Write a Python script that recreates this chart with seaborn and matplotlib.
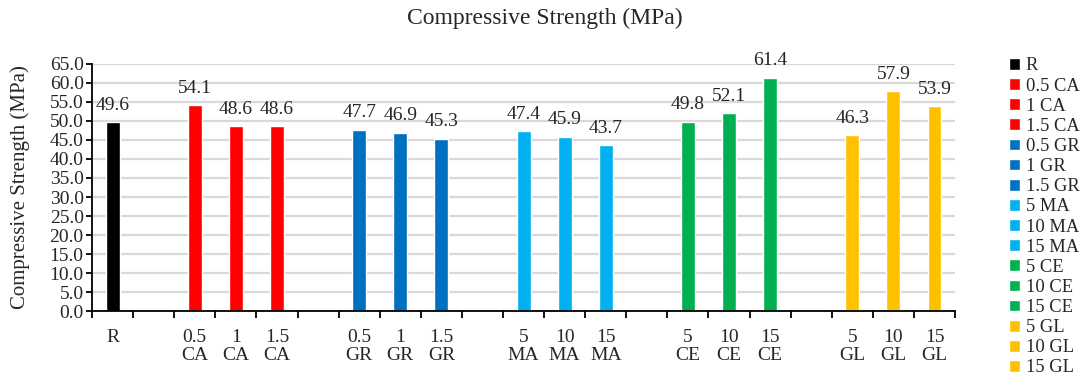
import matplotlib
matplotlib.use("Agg")
import matplotlib.pyplot as plt
import seaborn as sns
import pandas as pd
import numpy as np
from matplotlib.ticker import FormatStrFormatter, MultipleLocator

# Mixes and their compressive strength (MPa)
mixes = ["R", "0.5 CA", "1 CA", "1.5 CA", "0.5 GR", "1 GR", "1.5 GR",
         "5 MA", "10 MA", "15 MA", "5 CE", "10 CE", "15 CE",
         "5 GL", "10 GL", "15 GL"]
strength = [49.6, 54.1, 48.6, 48.6, 47.7, 46.9, 45.3,
            47.4, 45.9, 43.7, 49.8, 52.1, 61.4,
            46.3, 57.9, 53.9]
groups = ["R", "CA", "CA", "CA", "GR", "GR", "GR",
          "MA", "MA", "MA", "CE", "CE", "CE",
          "GL", "GL", "GL"]
group_colors = {"R": "#000000", "CA": "#FF0000", "GR": "#0070C0",
                "MA": "#00B0F0", "CE": "#00B050", "GL": "#FFC000"}

df = pd.DataFrame({"mix": mixes, "strength": strength, "group": groups})
palette = {m: group_colors[g] for m, g in zip(mixes, groups)}

# Category order with an empty slot between each group
order = []
for i, (m, g) in enumerate(zip(mixes, groups)):
    if i > 0 and g != groups[i - 1]:
        order.append(f"_gap{i}")
    order.append(m)
tick_labels = ["" if o.startswith("_gap") else o.replace(" ", "\n") for o in order]

sns.set_style("white")
plt.rcParams["font.family"] = ["Liberation Serif", "DejaVu Serif"]

fig = plt.figure(figsize=(10.89, 3.85), dpi=100)
ax = fig.add_axes([0.0845, 0.192, 0.7925, 0.642])

sns.barplot(data=df, x="mix", y="strength", hue="mix", order=order,
            hue_order=mixes, palette=palette, dodge=False, width=0.34,
            saturation=1, ax=ax, legend=True)

for c in ax.containers:
    ax.bar_label(c, fmt="%.1f", padding=6, fontsize=14)

ax.set_ylim(0, 65)
ax.yaxis.set_major_locator(MultipleLocator(5))
ax.yaxis.set_major_formatter(FormatStrFormatter("%.1f"))
ax.set_xlim(-0.5, len(order) - 0.5)

# Tick marks on the category boundaries, labels at the centres
ax.set_xticks(np.arange(len(order) + 1) - 0.5, labels=[""] * (len(order) + 1))
ax.set_xticks(np.arange(len(order)), labels=tick_labels, minor=True)
ax.tick_params(axis="x", which="major", length=5, width=1.3, color="black",
               direction="out", bottom=True)
ax.tick_params(axis="x", which="minor", length=0, pad=13, labelsize=14)
for t in ax.get_xticklabels(minor=True):
    t.set_linespacing(1.05)
ax.tick_params(axis="y", length=4, width=1.3, color="black", direction="out",
               left=True, labelsize=14, pad=2)

ax.yaxis.grid(True, color="#d9d9d9", linewidth=1.6)
ax.set_axisbelow(True)
for s in ["top", "right"]:
    ax.spines[s].set_visible(False)
for s in ["left", "bottom"]:
    ax.spines[s].set_color("black")
    ax.spines[s].set_linewidth(1.3)

ax.set_xlabel("")
ax.set_ylabel("Compressive Strength (MPa)", fontsize=15)
ax.yaxis.set_label_coords(-0.072, 0.5)
fig.suptitle("Compressive Strength (MPa)", fontsize=17, y=0.98)

handles, labels = ax.get_legend_handles_labels()
ax.legend_.remove()
fig.legend(handles, labels, loc="upper left",
           bbox_to_anchor=(1002 / 1089, 1 - 50 / 385), frameon=False,
           fontsize=13.3, handlelength=0.6, handleheight=0.6,
           handletextpad=0.28, labelspacing=0.17, borderaxespad=0)

fig.savefig("out.png", dpi=100)
